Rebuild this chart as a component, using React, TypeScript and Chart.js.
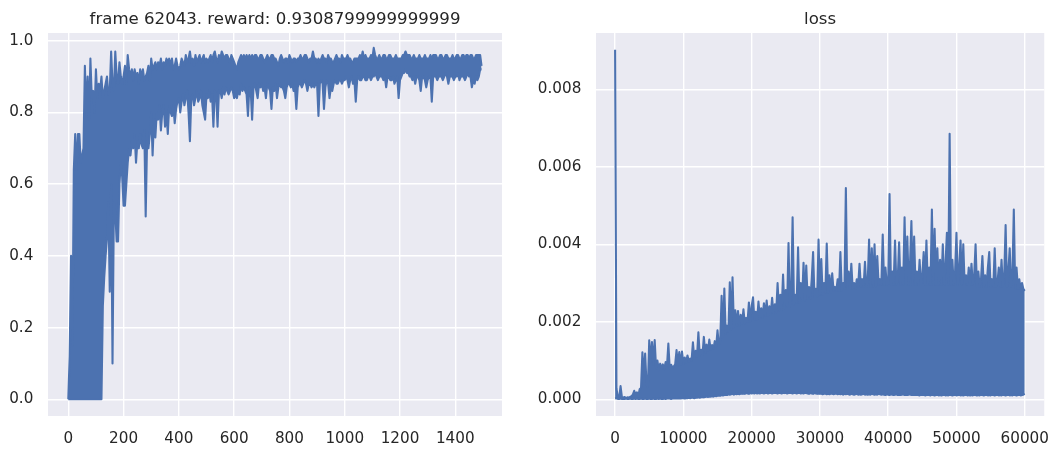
import React, { useEffect, useRef } from "react";
import { Chart, registerables } from "chart.js";

Chart.register(...registerables);

// ---------------- data ----------------
const rewardTitle = "frame 62043. reward: 0.9308799999999999";
const lossTitle = "loss";

// reward curve read as its upper / lower envelope, every 5 frames (x = index * 5)
const REWARD_STEP = 5;
const rewardUpper = [
  0.00, 0.12, 0.40, 0.15, 0.64, 0.74, 0.64, 0.74, 0.74, 0.66, 0.68, 0.70, 0.93, 0.80, 0.90, 0.78, 0.95, 0.84, 0.86, 0.80,
  0.92, 0.84, 0.88, 0.86, 0.90, 0.84, 0.86, 0.88, 0.90, 0.85, 0.86, 0.97, 0.88, 0.86, 0.97, 0.90, 0.88, 0.94, 0.90, 0.88,
  0.90, 0.93, 0.88, 0.96, 0.92, 0.90, 0.92, 0.89, 0.92, 0.90, 0.91, 0.88, 0.92, 0.90, 0.92, 0.89, 0.90, 0.91, 0.93, 0.89,
  0.95, 0.92, 0.93, 0.94, 0.92, 0.94, 0.93, 0.95, 0.92, 0.94, 0.93, 0.95, 0.94, 0.95, 0.93, 0.95, 0.92, 0.93, 0.95, 0.93,
  0.92, 0.93, 0.95, 0.94, 0.93, 0.96, 0.94, 0.95, 0.97, 0.94, 0.95, 0.93, 0.96, 0.94, 0.95, 0.96, 0.94, 0.95, 0.96, 0.94,
  0.95, 0.94, 0.95, 0.96, 0.94, 0.96, 0.97, 0.95, 0.94, 0.96, 0.95, 0.97, 0.96, 0.95, 0.96, 0.96, 0.95, 0.94, 0.96, 0.95,
  0.94, 0.93, 0.92, 0.94, 0.95, 0.96, 0.95, 0.96, 0.95, 0.96, 0.95, 0.96, 0.95, 0.96, 0.95, 0.96, 0.96, 0.95, 0.95, 0.96,
  0.96, 0.95, 0.94, 0.95, 0.96, 0.95, 0.95, 0.96, 0.96, 0.95, 0.95, 0.94, 0.93, 0.95, 0.96, 0.95, 0.94, 0.95, 0.95, 0.94,
  0.96, 0.95, 0.94, 0.95, 0.95, 0.94, 0.95, 0.95, 0.96, 0.95, 0.95, 0.96, 0.96, 0.95, 0.94, 0.95, 0.95, 0.97, 0.95, 0.95,
  0.94, 0.95, 0.94, 0.95, 0.96, 0.95, 0.95, 0.94, 0.96, 0.95, 0.95, 0.94, 0.94, 0.95, 0.96, 0.95, 0.95, 0.94, 0.96, 0.95,
  0.95, 0.95, 0.96, 0.95, 0.95, 0.94, 0.94, 0.95, 0.95, 0.95, 0.95, 0.96, 0.95, 0.97, 0.95, 0.96, 0.95, 0.95, 0.95, 0.96,
  0.95, 0.98, 0.96, 0.95, 0.95, 0.96, 0.95, 0.95, 0.96, 0.96, 0.95, 0.95, 0.96, 0.96, 0.95, 0.95, 0.95, 0.96, 0.95, 0.95,
  0.95, 0.95, 0.96, 0.96, 0.97, 0.96, 0.96, 0.96, 0.95, 0.95, 0.96, 0.95, 0.95, 0.95, 0.96, 0.95, 0.95, 0.95, 0.96, 0.95,
  0.95, 0.95, 0.96, 0.95, 0.96, 0.96, 0.96, 0.95, 0.95, 0.96, 0.96, 0.95, 0.95, 0.96, 0.96, 0.95, 0.95, 0.95, 0.96, 0.95,
  0.95, 0.96, 0.96, 0.95, 0.95, 0.96, 0.96, 0.95, 0.96, 0.96, 0.95, 0.96, 0.96, 0.95, 0.95, 0.96, 0.96, 0.96, 0.96, 0.93,
];
const rewardLower = [
  0, 0, 0, 0, 0, 0, 0, 0, 0, 0, 0, 0, 0, 0, 0, 0, 0, 0, 0, 0,
  0, 0, 0, 0, 0, 0.26, 0.34, 0.40, 0.45, 0.55, 0.30, 0.60, 0.10, 0.55, 0.52, 0.44, 0.44, 0.60, 0.66, 0.62,
  0.54, 0.54, 0.60, 0.66, 0.70, 0.68, 0.72, 0.70, 0.74, 0.66, 0.72, 0.70, 0.74, 0.71, 0.70, 0.75, 0.51, 0.72, 0.70, 0.74,
  0.80, 0.68, 0.78, 0.73, 0.80, 0.78, 0.82, 0.75, 0.80, 0.82, 0.76, 0.80, 0.74, 0.82, 0.80, 0.79, 0.82, 0.77, 0.81, 0.83,
  0.84, 0.80, 0.83, 0.85, 0.82, 0.84, 0.86, 0.80, 0.72, 0.84, 0.85, 0.82, 0.84, 0.86, 0.83, 0.84, 0.86, 0.82, 0.80, 0.78,
  0.85, 0.84, 0.86, 0.83, 0.85, 0.76, 0.86, 0.85, 0.76, 0.86, 0.86, 0.84, 0.87, 0.85, 0.87, 0.86, 0.85, 0.86, 0.87, 0.86,
  0.84, 0.85, 0.84, 0.86, 0.85, 0.88, 0.86, 0.87, 0.86, 0.85, 0.79, 0.87, 0.86, 0.78, 0.87, 0.88, 0.86, 0.84, 0.88, 0.87,
  0.88, 0.86, 0.87, 0.84, 0.88, 0.87, 0.86, 0.81, 0.87, 0.86, 0.88, 0.84, 0.87, 0.88, 0.87, 0.87, 0.86, 0.84, 0.87, 0.88,
  0.88, 0.87, 0.88, 0.86, 0.87, 0.81, 0.87, 0.88, 0.88, 0.87, 0.88, 0.89, 0.88, 0.86, 0.88, 0.88, 0.87, 0.88, 0.87, 0.88,
  0.88, 0.79, 0.88, 0.89, 0.88, 0.81, 0.87, 0.89, 0.88, 0.84, 0.87, 0.86, 0.88, 0.89, 0.88, 0.88, 0.89, 0.89, 0.88, 0.89,
  0.89, 0.90, 0.89, 0.87, 0.89, 0.90, 0.88, 0.89, 0.83, 0.89, 0.90, 0.89, 0.89, 0.90, 0.90, 0.89, 0.89, 0.90, 0.90, 0.89,
  0.90, 0.90, 0.91, 0.90, 0.89, 0.90, 0.90, 0.90, 0.89, 0.90, 0.87, 0.90, 0.90, 0.89, 0.89, 0.90, 0.88, 0.89, 0.90, 0.84,
  0.89, 0.90, 0.91, 0.91, 0.92, 0.91, 0.91, 0.90, 0.90, 0.89, 0.90, 0.88, 0.90, 0.90, 0.89, 0.86, 0.90, 0.90, 0.89, 0.87,
  0.89, 0.90, 0.90, 0.83, 0.90, 0.90, 0.90, 0.89, 0.90, 0.90, 0.90, 0.89, 0.90, 0.91, 0.90, 0.88, 0.90, 0.90, 0.90, 0.89,
  0.90, 0.90, 0.91, 0.89, 0.90, 0.90, 0.90, 0.89, 0.90, 0.91, 0.90, 0.90, 0.87, 0.89, 0.88, 0.90, 0.89, 0.90, 0.92, 0.92,
];

// loss curve read as its upper / lower envelope, every 200 frames (x = index * 200)
const LOSS_STEP = 200;
const lossUpper = [
  0.00902, 0.00028, 0.00006, 0.00004, 0.00034, 0.00005, 0.00004, 0.00006, 0.00003, 0.00005,
  0.00004, 0.00006, 0.00008, 0.00012, 0.00022, 0.00012, 0.00018, 0.00008, 0.00026, 0.00030,
  0.00121, 0.00060, 0.00118, 0.00040, 0.00030, 0.00152, 0.00095, 0.00148, 0.00090, 0.00153,
  0.00080, 0.00100, 0.00075, 0.00092, 0.00080, 0.00090, 0.00078, 0.00096, 0.00085, 0.00144,
  0.00080, 0.00089, 0.00082, 0.00085, 0.00090, 0.00127, 0.00088, 0.00122, 0.00090, 0.00123,
  0.00092, 0.00108, 0.00095, 0.00113, 0.00098, 0.00105, 0.00100, 0.00147, 0.00105, 0.00125,
  0.00110, 0.00173, 0.00112, 0.00128, 0.00115, 0.00161, 0.00120, 0.00141, 0.00125, 0.00154,
  0.00128, 0.00140, 0.00130, 0.00150, 0.00135, 0.00178, 0.00140, 0.00150, 0.00267, 0.00160,
  0.00286, 0.00170, 0.00190, 0.00175, 0.00302, 0.00180, 0.00315, 0.00185, 0.00230, 0.00190,
  0.00228, 0.00190, 0.00218, 0.00195, 0.00232, 0.00195, 0.00210, 0.00200, 0.00250, 0.00200,
  0.00240, 0.00263, 0.00205, 0.00226, 0.00205, 0.00252, 0.00210, 0.00235, 0.00210, 0.00248,
  0.00215, 0.00255, 0.00215, 0.00240, 0.00220, 0.00262, 0.00220, 0.00245, 0.00225, 0.00300,
  0.00230, 0.00270, 0.00230, 0.00322, 0.00235, 0.00282, 0.00240, 0.00403, 0.00240, 0.00275,
  0.00470, 0.00245, 0.00270, 0.00250, 0.00392, 0.00250, 0.00300, 0.00255, 0.00352, 0.00255,
  0.00345, 0.00260, 0.00290, 0.00260, 0.00310, 0.00380, 0.00265, 0.00285, 0.00265, 0.00412,
  0.00270, 0.00362, 0.00270, 0.00300, 0.00275, 0.00402, 0.00275, 0.00320, 0.00275, 0.00325,
  0.00280, 0.00290, 0.00280, 0.00310, 0.00280, 0.00380, 0.00280, 0.00300, 0.00285, 0.00545,
  0.00285, 0.00330, 0.00285, 0.00350, 0.00285, 0.00300, 0.00285, 0.00310, 0.00290, 0.00350,
  0.00290, 0.00310, 0.00290, 0.00355, 0.00290, 0.00300, 0.00412, 0.00290, 0.00390, 0.00290,
  0.00400, 0.00290, 0.00370, 0.00295, 0.00310, 0.00295, 0.00425, 0.00295, 0.00340, 0.00295,
  0.00300, 0.00530, 0.00295, 0.00330, 0.00295, 0.00410, 0.00295, 0.00310, 0.00405, 0.00295,
  0.00340, 0.00295, 0.00470, 0.00295, 0.00420, 0.00295, 0.00350, 0.00460, 0.00295, 0.00420,
  0.00295, 0.00330, 0.00295, 0.00360, 0.00295, 0.00320, 0.00380, 0.00295, 0.00410, 0.00295,
  0.00340, 0.00295, 0.00490, 0.00295, 0.00440, 0.00295, 0.00390, 0.00295, 0.00360, 0.00295,
  0.00400, 0.00295, 0.00350, 0.00430, 0.00295, 0.00685, 0.00295, 0.00360, 0.00295, 0.00330,
  0.00430, 0.00295, 0.00340, 0.00410, 0.00295, 0.00400, 0.00295, 0.00320, 0.00295, 0.00340,
  0.00295, 0.00350, 0.00295, 0.00320, 0.00400, 0.00290, 0.00330, 0.00290, 0.00310, 0.00370,
  0.00290, 0.00320, 0.00290, 0.00340, 0.00380, 0.00290, 0.00310, 0.00290, 0.00390, 0.00290,
  0.00300, 0.00340, 0.00290, 0.00360, 0.00290, 0.00320, 0.00450, 0.00290, 0.00330, 0.00390,
  0.00290, 0.00320, 0.00490, 0.00285, 0.00340, 0.00285, 0.00310, 0.00285, 0.00300, 0.00285,
  0.00280,
];
const lossLower = [
  0.00002, 0.00003, 0.00001, 0.00001, 0.00002, 0.00001, 0.00001, 0.00001, 0.00002, 0.00001,
  0.00001, 0.00002, 0.00001, 0.00001, 0.00002, 0.00001, 0.00002, 0.00001, 0.00001, 0.00002,
  0.00001, 0.00001, 0.00002, 0.00001, 0.00001, 0.00002, 0.00001, 0.00001, 0.00002, 0.00001,
  0.00001, 0.00002, 0.00001, 0.00002, 0.00001, 0.00001, 0.00002, 0.00001, 0.00002, 0.00002,
  0.00002, 0.00001, 0.00002, 0.00002, 0.00003, 0.00002, 0.00002, 0.00003, 0.00002, 0.00003,
  0.00003, 0.00002, 0.00003, 0.00003, 0.00004, 0.00003, 0.00004, 0.00004, 0.00003, 0.00004,
  0.00004, 0.00005, 0.00004, 0.00005, 0.00006, 0.00005, 0.00006, 0.00007, 0.00006, 0.00007,
  0.00007, 0.00008, 0.00007, 0.00009, 0.00008, 0.00009, 0.00010, 0.00009, 0.00011, 0.00010,
  0.00011, 0.00012, 0.00011, 0.00013, 0.00012, 0.00013, 0.00014, 0.00012, 0.00014, 0.00013,
  0.00014, 0.00013, 0.00015, 0.00014, 0.00015, 0.00014, 0.00016, 0.00015, 0.00014, 0.00016,
  0.00015, 0.00016, 0.00015, 0.00017, 0.00015, 0.00016, 0.00015, 0.00017, 0.00016, 0.00015,
  0.00016, 0.00017, 0.00015, 0.00016, 0.00017, 0.00015, 0.00016, 0.00017, 0.00016, 0.00015,
  0.00017, 0.00016, 0.00015, 0.00017, 0.00016, 0.00017, 0.00015, 0.00016, 0.00017, 0.00016,
  0.00015, 0.00017, 0.00016, 0.00015, 0.00016, 0.00017, 0.00015, 0.00016, 0.00015, 0.00017,
  0.00016, 0.00015, 0.00014, 0.00016, 0.00015, 0.00014, 0.00016, 0.00015, 0.00014, 0.00015,
  0.00014, 0.00015, 0.00013, 0.00014, 0.00015, 0.00013, 0.00014, 0.00013, 0.00015, 0.00014,
  0.00013, 0.00014, 0.00015, 0.00013, 0.00014, 0.00013, 0.00014, 0.00012, 0.00014, 0.00013,
  0.00014, 0.00013, 0.00012, 0.00014, 0.00013, 0.00012, 0.00013, 0.00014, 0.00012, 0.00013,
  0.00012, 0.00013, 0.00014, 0.00012, 0.00013, 0.00012, 0.00013, 0.00012, 0.00014, 0.00013,
  0.00012, 0.00013, 0.00012, 0.00014, 0.00013, 0.00012, 0.00013, 0.00012, 0.00011, 0.00013,
  0.00012, 0.00011, 0.00013, 0.00012, 0.00011, 0.00012, 0.00013, 0.00011, 0.00012, 0.00011,
  0.00012, 0.00013, 0.00011, 0.00012, 0.00011, 0.00012, 0.00013, 0.00011, 0.00012, 0.00011,
  0.00011, 0.00012, 0.00011, 0.00010, 0.00012, 0.00011, 0.00012, 0.00010, 0.00011, 0.00012,
  0.00011, 0.00010, 0.00012, 0.00011, 0.00010, 0.00011, 0.00012, 0.00010, 0.00011, 0.00010,
  0.00011, 0.00012, 0.00010, 0.00011, 0.00010, 0.00012, 0.00011, 0.00010, 0.00011, 0.00012,
  0.00010, 0.00011, 0.00012, 0.00010, 0.00011, 0.00010, 0.00011, 0.00012, 0.00010, 0.00011,
  0.00010, 0.00011, 0.00010, 0.00012, 0.00011, 0.00010, 0.00011, 0.00010, 0.00012, 0.00011,
  0.00010, 0.00011, 0.00012, 0.00010, 0.00011, 0.00010, 0.00012, 0.00011, 0.00010, 0.00011,
  0.00012, 0.00010, 0.00011, 0.00010, 0.00012, 0.00011, 0.00010, 0.00011, 0.00012, 0.00010,
  0.00011, 0.00010, 0.00012, 0.00011, 0.00010, 0.00011, 0.00012, 0.00010, 0.00011, 0.00012,
  0.00014,
];

const rewardXTicks = [0, 200, 400, 600, 800, 1000, 1200, 1400];
const rewardYTicks = [0.0, 0.2, 0.4, 0.6, 0.8, 1.0];
const lossXTicks = [0, 10000, 20000, 30000, 40000, 50000, 60000];
const lossYTicks = [0.0, 0.002, 0.004, 0.006, 0.008];

// ---------------- styling ----------------
const W = 1063;
const H = 455;
const FONT = "DejaVu Sans";
const TEXT = "#262626";
const LINE = "#4C72B0";
const BG = "#EAEAF2";
const TICK_SIZE = 15.2;
const TITLE_SIZE = 16.6;

type Panel = {
  title: string;
  upper: number[];
  lower: number[];
  step: number;
  xTicks: number[];
  yTicks: number[];
  xMin: number;
  xMax: number;
  yMin: number;
  yMax: number;
  yDecimals: number;
  yAxisW: number;
  area: { left: number; right: number; top: number; bottom: number };
};

const panels: Panel[] = [
  {
    title: rewardTitle,
    upper: rewardUpper,
    lower: rewardLower,
    step: REWARD_STEP,
    xTicks: rewardXTicks,
    yTicks: rewardYTicks,
    xMin: -73.4,
    xMax: 1569,
    yMin: -0.0466,
    yMax: 1.0215,
    yDecimals: 1,
    yAxisW: 48,
    area: { left: 48, right: 502, top: 33, bottom: 416 },
  },
  {
    title: lossTitle,
    upper: lossUpper,
    lower: lossLower,
    step: LOSS_STEP,
    xTicks: lossXTicks,
    yTicks: lossYTicks,
    xMin: -2797,
    xMax: 62855,
    yMin: -0.000431,
    yMax: 0.009453,
    yDecimals: 3,
    yAxisW: 90,
    area: { left: 596, right: 1049, top: 33, bottom: 416 },
  },
];

function PanelChart({ p }: { p: Panel }) {
  const ref = useRef<HTMLCanvasElement | null>(null);
  useEffect(() => {
    if (!ref.current) return;
    const lowPts = p.lower.map((v, i) => ({ x: i * p.step, y: v }));
    const upPts = p.upper.map((v, i) => ({ x: i * p.step, y: v }));
    const bgPlugin = {
      id: "axesBg",
      beforeDraw(chart: any) {
        const { ctx, chartArea } = chart;
        ctx.save();
        ctx.fillStyle = BG;
        ctx.fillRect(chartArea.left, chartArea.top, chartArea.right - chartArea.left, chartArea.bottom - chartArea.top);
        ctx.restore();
      },
      afterDraw(chart: any) {
        const { ctx, chartArea } = chart;
        ctx.save();
        ctx.font = `${TITLE_SIZE}px "${FONT}"`;
        ctx.fillStyle = TEXT;
        ctx.textAlign = "center";
        ctx.textBaseline = "alphabetic";
        ctx.fillText(p.title, (chartArea.left + chartArea.right) / 2, chartArea.top - 8.6);
        ctx.restore();
      },
    };
    const tickFont = { family: FONT, size: TICK_SIZE };
    const lineStyle = {
      borderColor: LINE,
      borderWidth: 2.08,
      pointRadius: 0,
      tension: 0,
      borderJoinStyle: "round",
    };
    const chart = new Chart(ref.current, {
      type: "line",
      data: {
        datasets: [
          { ...lineStyle, data: lowPts, fill: false } as any,
          { ...lineStyle, data: upPts, fill: "-1", backgroundColor: LINE } as any,
        ],
      },
      options: {
        responsive: false,
        animation: false,
        events: [],
        layout: {
          padding: {
            top: p.area.top,
            bottom: 0,
            left: p.area.left - p.yAxisW,
            right: W - p.area.right,
          },
        },
        plugins: {
          legend: { display: false },
          tooltip: { enabled: false },
          title: { display: false },
        },
        scales: {
          x: {
            type: "linear",
            min: p.xMin,
            max: p.xMax,
            afterFit: (s: any) => {
              s.height = H - p.area.bottom;
            },
            afterBuildTicks: (s: any) => {
              s.ticks = p.xTicks.map((v) => ({ value: v }));
            },
            grid: { color: "#ffffff", lineWidth: 1.38, drawTicks: false },
            border: { display: false },
            ticks: {
              font: tickFont,
              color: TEXT,
              padding: 13.5,
              maxRotation: 0,
              autoSkip: false,
              callback: (v: any) => String(v),
            },
          },
          y: {
            type: "linear",
            min: p.yMin,
            max: p.yMax,
            afterFit: (s: any) => {
              s.width = p.yAxisW;
            },
            afterBuildTicks: (s: any) => {
              s.ticks = p.yTicks.map((v) => ({ value: v }));
            },
            grid: { color: "#ffffff", lineWidth: 1.38, drawTicks: false },
            border: { display: false },
            ticks: {
              font: tickFont,
              color: TEXT,
              padding: 14.7,
              autoSkip: false,
              callback: (v: any) => Number(v).toFixed(p.yDecimals),
            },
          },
        },
      } as any,
      plugins: [bgPlugin],
    });
    return () => chart.destroy();
  }, [p]);
  return (
    <canvas
      ref={ref}
      width={W}
      height={H}
      style={{ position: "absolute", left: 0, top: 0, width: W, height: H }}
    />
  );
}

export default function App() {
  return (
    <div
      style={{
        position: "fixed",
        left: 0,
        top: 0,
        width: W,
        height: H,
        background: "#ffffff",
        overflow: "hidden",
      }}
    >
      {panels.map((p, i) => (
        <PanelChart key={i} p={p} />
      ))}
    </div>
  );
}
